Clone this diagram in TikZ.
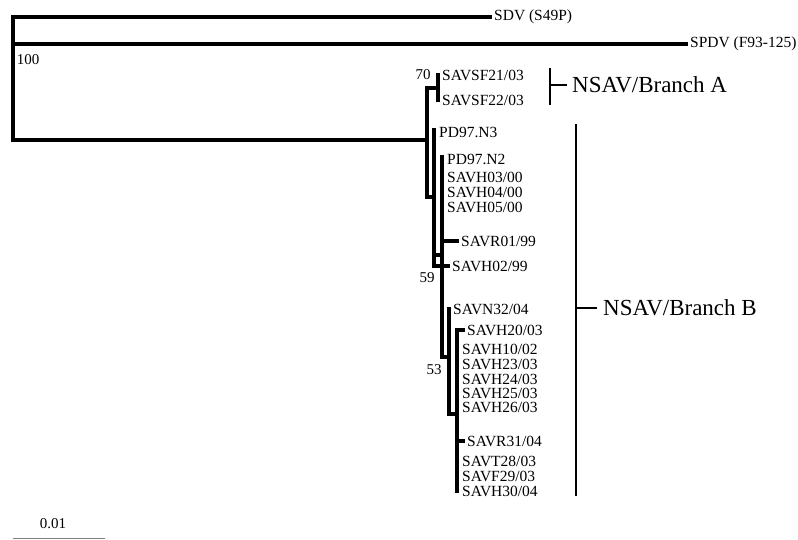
\documentclass[tikz,border=0pt]{standalone}
\usepackage{fontspec}
\setmainfont{Liberation Serif}
\usepackage{tikz}
\usetikzlibrary{positioning}
\tikzstyle{branch}=[line width=4pt, line cap=rect]
\tikzstyle{bracket}=[line width=1.3pt]
\tikzstyle{scalebar}=[line width=1pt, color=gray]
\tikzstyle{leaf}=[inner sep=1pt, font=\fontsize{15.5}{16}\selectfont]
\tikzstyle{boot}=[inner sep=0pt, font=\fontsize{15}{16}\selectfont]
\tikzstyle{cladelabel}=[inner sep=1pt, font=\fontsize{23}{25}\selectfont]

\begin{document}
\begin{tikzpicture}[x=1pt, y=-1pt]
    \useasboundingbox (0,0) rectangle (798,539);

    % --- raiz e grupos externos ---
    \coordinate (r0) at (13,17);
    \coordinate (r1) at (13,44);
    \coordinate (r2) at (13,140);
    \coordinate (tsdv) at (490,17);
    \coordinate (tspdv) at (686,44);
    \draw[branch] (r0) -- (r2);
    \draw[branch] (r0) -- (tsdv);
    \draw[branch] (r1) -- (tspdv);
    \node[leaf, right=3pt of tsdv] (lsdv) {SDV (S49P)};
    \node[leaf, right=3pt of tspdv] (lspdv) {SPDV (F93-125)};
    \node[boot] (b100) at (28,60) {100};

    % --- NSAV ---
    \coordinate (n1) at (427,140);
    \coordinate (n1t) at (427,88);
    \coordinate (n1b) at (427,197);
    \draw[branch] (r2) -- (n1);
    \draw[branch] (n1t) -- (n1b);

    % ramo A
    \coordinate (na) at (438,88);
    \coordinate (a1) at (438,75);
    \coordinate (a2) at (438,100);
    \draw[branch] (n1t) -- (na);
    \draw[branch] (a1) -- (a2);
    \node[leaf, right=3pt of a1] (la1) {SAVSF21/03};
    \node[leaf, right=3pt of a2] (la2) {SAVSF22/03};
    \node[boot] (b70) at (423,75) {70};

    % ramo B, primeiro nivel
    \coordinate (n2) at (434,197);
    \coordinate (n2t) at (434,130);
    \coordinate (n2c) at (434,255);
    \coordinate (n2b) at (434,266);
    \coordinate (th02) at (448,266);
    \draw[branch] (n1b) -- (n2);
    \draw[branch] (n2t) -- (n2b);
    \draw[branch] (n2b) -- (th02);
    \coordinate (pd3) at (434,132);
    \node[leaf, right=4pt of pd3] (lpd3) {PD97.N3};
    \node[leaf, right=3pt of th02] (lh02) {SAVH02/99};
    \node[boot] (b59) at (427,278) {59};

    % segundo nivel
    \coordinate (n3) at (442,255);
    \coordinate (n3t) at (442,157);
    \coordinate (n3b) at (442,357);
    \coordinate (n3r) at (442,241);
    \coordinate (tr01) at (457,241);
    \draw[branch] (n2c) -- (n3);
    \draw[branch] (n3t) -- (n3b);
    \draw[branch] (n3r) -- (tr01);
    \foreach \y/\txt [count=\i] in {159/{PD97.N2},177/{SAVH03/00},192/{SAVH04/00},207/{SAVH05/00}} {
      \coordinate (c3\i) at (442,\y);
      \node[leaf, right=4pt of c3\i] (l3\i) {\txt};
    }
    \node[leaf, right=3pt of tr01] (lr01) {SAVR01/99};

    % terceiro nivel
    \coordinate (n4) at (449,357);
    \coordinate (n4t) at (449,309);
    \coordinate (n4b) at (449,414);
    \draw[branch] (n3b) -- (n4);
    \draw[branch] (n4t) -- (n4b);
    \node[leaf, right=3pt of n4t] (ln32) {SAVN32/04};
    \node[boot] (b53) at (434,370) {53};

    % quarto nivel
    \coordinate (n5) at (457,414);
    \coordinate (n5t) at (457,330);
    \coordinate (n5b) at (457,491);
    \coordinate (th20) at (463,330);
    \coordinate (n5r) at (457,441);
    \coordinate (tr31) at (463,441);
    \draw[branch] (n4b) -- (n5);
    \draw[branch] (n5t) -- (n5b);
    \draw[branch] (n5t) -- (th20);
    \draw[branch] (n5r) -- (tr31);
    \node[leaf, right=3pt of th20] (lh20) {SAVH20/03};
    \node[leaf, right=3pt of tr31] (lr31) {SAVR31/04};
    \foreach \y/\txt [count=\i] in {349/{SAVH10/02},364/{SAVH23/03},379/{SAVH24/03},393/{SAVH25/03},407/{SAVH26/03},461/{SAVT28/03},476/{SAVF29/03},491/{SAVH30/04}} {
      \coordinate (c5\i) at (457,\y);
      \node[leaf, right=4pt of c5\i] (l5\i) {\txt};
    }

    % --- rotulos dos ramos ---
    \coordinate (ka) at (550,68);
    \coordinate (kam) at (550,85);
    \coordinate (kab) at (550,105);
    \coordinate (kat) at (567,85);
    \draw[bracket] (ka) -- (kab);
    \draw[bracket] (kam) -- (kat);
    \node[cladelabel, right=4pt of kat] (bra) {NSAV/Branch A};

    \coordinate (kb) at (576,124);
    \coordinate (kbm) at (576,308);
    \coordinate (kbb) at (576,496);
    \coordinate (kbt) at (597,308);
    \draw[bracket] (kb) -- (kbb);
    \draw[bracket] (kbm) -- (kbt);
    \node[cladelabel, right=5pt of kbt] (brb) {NSAV/Branch B};

    % escala
    \coordinate (s0) at (13,538);
    \coordinate (s1) at (105,538);
    \draw[scalebar] (s0) -- (s1);
    \node[boot] (scl) at (53,524) {0.01};
\end{tikzpicture}
\end{document}
